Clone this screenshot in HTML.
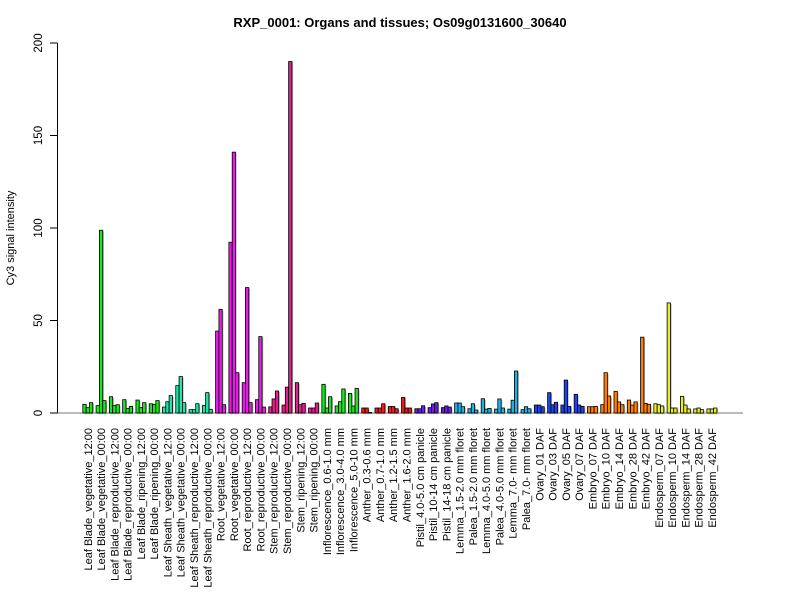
<!DOCTYPE html>
<html><head><meta charset="utf-8"><style>
html,body{margin:0;padding:0;background:#fff;}
svg{display:block;font-family:"Liberation Sans",Arial,sans-serif;}
</style></head><body>
<svg width="800" height="600" xmlns="http://www.w3.org/2000/svg" id="s">
<rect width="800" height="600" fill="#fff"/>
<text x="400" y="27" text-anchor="middle" font-size="13" font-weight="bold">RXP_0001: Organs and tissues; Os09g0131600_30640</text>
<text transform="translate(14,238) rotate(-90)" text-anchor="middle" font-size="11">Cy3 signal intensity</text>
<line x1="57.5" y1="43" x2="57.5" y2="413" stroke="#000"/>
<g stroke="#000">
<line x1="50" y1="413" x2="57.5" y2="413"/><line x1="50" y1="320.5" x2="57.5" y2="320.5"/>
<line x1="50" y1="228" x2="57.5" y2="228"/><line x1="50" y1="135.5" x2="57.5" y2="135.5"/>
<line x1="50" y1="43" x2="57.5" y2="43"/>
</g>
<g font-size="11.5" text-anchor="middle">
<text transform="translate(42,413) rotate(-90)">0</text>
<text transform="translate(42,320.5) rotate(-90)">50</text>
<text transform="translate(42,228) rotate(-90)">100</text>
<text transform="translate(42,135.5) rotate(-90)">150</text>
<text transform="translate(42,43) rotate(-90)">200</text>
</g>
<line x1="57.5" y1="413" x2="743" y2="413" stroke="#777"/>
<g id="bars"></g>
<g id="labs" font-size="11" text-anchor="end"></g>
</svg>
<script>
var vals=[[4.7,2.9,5.6],[4.0,98.8,6.7],[8.8,4.0,4.5],[7.2,2.4,3.6],[7.0,2.9,5.6],[5.0,4.7,6.7],
[3.2,6.1,9.4],[14.8,19.7,5.6],[1.8,1.8,5.0],[4.0,11.0,2.0],
[44.3,56,4.5],[92.3,141,21.8],[16.4,67.8,5.6],[7.2,41.3,3.2],
[3.3,7.6,11.9],[4.3,14.0,190],[16.4,4.5,5.2],[2.7,2.7,5.4],
[15.5,2.7,8.8],[3.8,6.1,13],[10.6,3.8,13.3],
[2.7,2.7,0.3],[2.7,2.7,5.0],[3.5,3.5,2.3],[8.4,2.7,2.7],
[2.3,2.3,3.9],[2.9,4.9,5.6],[2.9,3.8,3.2],
[5.4,5.4,3.4],[2.3,5.0,1.6],[7.7,2.1,2.5],[2.1,7.6,2.7],[2.1,6.9,22.7],[1.8,3.4,2.3],
[4.3,4.3,3.4],[11.0,4.5,5.8],[4.3,17.8,3.6],[10.1,4.3,3.6],
[3.4,3.4,3.6],[4.5,21.8,9.2],[11.7,6.0,4.5],[7.0,4.3,6.0],[41,5.2,4.7],
[5.0,4.5,3.8],[59.5,2.7,2.7],[9.0,4.3,2.2],[2.2,2.7,1.8],[2.2,2.2,2.7]];
var cols=[];
function rep(c,n){for(var i=0;i<n;i++)cols.push(c);}
rep("#1EE61E",6);rep("#1EE6AA",4);rep("#E61EE6",4);rep("#E61E8C",4);rep("#1EE61E",3);
rep("#E61E1E",4);rep("#6E1EE6",3);rep("#1EB4E6",6);rep("#1E46E6",4);rep("#FF7F00",5);rep("#E6F01E",5);
var labs=["Leaf Blade_vegetative_12:00","Leaf Blade_vegetative_00:00","Leaf Blade_reproductive_12:00","Leaf Blade_reproductive_00:00","Leaf Blade_ripening_12:00","Leaf Blade_ripening_00:00",
"Leaf Sheath_vegetative_12:00","Leaf Sheath_vegetative_00:00","Leaf Sheath_reproductive_12:00","Leaf Sheath_reproductive_00:00",
"Root_vegetative_12:00","Root_vegetative_00:00","Root_reproductive_12:00","Root_reproductive_00:00",
"Stem_reproductive_12:00","Stem_reproductive_00:00","Stem_ripening_12:00","Stem_ripening_00:00",
"Inflorescence_0.6-1.0 mm","Inflorescence_3.0-4.0 mm","Inflorescence_5.0-10 mm",
"Anther_0.3-0.6 mm","Anther_0.7-1.0 mm","Anther_1.2-1.5 mm","Anther_1.6-2.0 mm",
"Pistil_4.0-5.0 cm panicle","Pistil_10-14 cm panicle","Pistil_14-18 cm panicle",
"Lemma_1.5-2.0 mm floret","Palea_1.5-2.0 mm floret","Lemma_4.0-5.0 mm floret","Palea_4.0-5.0 mm floret","Lemma_7.0- mm floret","Palea_7.0- mm floret",
"Ovary_01 DAF","Ovary_03 DAF","Ovary_05 DAF","Ovary_07 DAF",
"Embryo_07 DAF","Embryo_10 DAF","Embryo_14 DAF","Embryo_28 DAF","Embryo_42 DAF",
"Endosperm_07 DAF","Endosperm_10 DAF","Endosperm_14 DAF","Endosperm_28 DAF","Endosperm_42 DAF"];
var B=document.getElementById("bars"),L=document.getElementById("labs");
var gw=13.28,bw=3.32,x0=82.8,base=413,k=1.85,h="";
for(var g=0;g<48;g++){
 for(var j=0;j<3;j++){
  var x=x0+g*gw+j*bw,v=vals[g][j]*k,y=base-v;
  h+='<rect x="'+(x+1.2).toFixed(2)+'" y="'+(y+1.2).toFixed(2)+'" width="'+bw+'" height="'+v.toFixed(2)+'" fill="#bbb"/>';
 }
}
for(var g=0;g<48;g++){
 for(var j=0;j<3;j++){
  var x=x0+g*gw+j*bw,v=vals[g][j]*k,y=base-v;
  h+='<rect x="'+x.toFixed(2)+'" y="'+y.toFixed(2)+'" width="'+bw+'" height="'+v.toFixed(2)+'" fill="'+cols[g]+'" stroke="#000" stroke-width="0.8"/>';
 }
}
B.innerHTML=h;
var t="";
for(var g=0;g<48;g++){
 var cx=x0+g*gw+1.5*bw+4;
 t+='<text transform="translate('+cx.toFixed(2)+',428) rotate(-90)">'+labs[g]+'</text>';
}
L.innerHTML=t;
</script>
</body></html>
